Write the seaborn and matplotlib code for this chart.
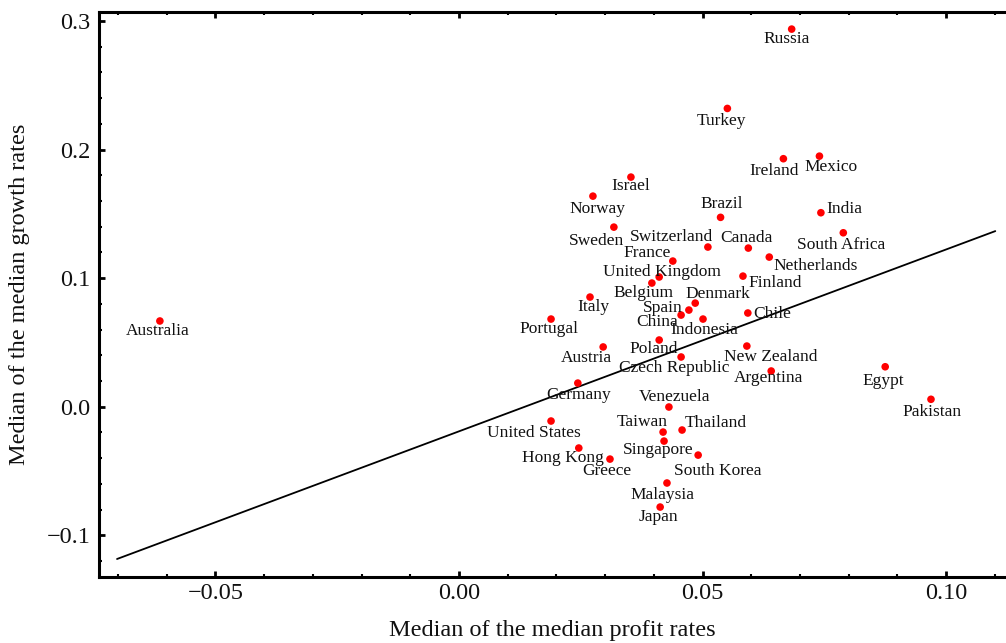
import numpy as np
import pandas as pd
import matplotlib
matplotlib.use("Agg")
import matplotlib.pyplot as plt
import seaborn as sns
from matplotlib.ticker import MultipleLocator, FuncFormatter

countries = ['Russia', 'Turkey', 'Ireland', 'Mexico', 'India', 'South Africa',
             'Brazil', 'Canada', 'Israel', 'Norway', 'Sweden', 'Switzerland',
             'Netherlands', 'France', 'United Kingdom', 'Belgium', 'Finland',
             'Italy', 'Denmark', 'Spain', 'China', 'Indonesia', 'Chile',
             'Portugal', 'Poland', 'Austria', 'Czech Republic', 'New Zealand',
             'Argentina', 'Germany', 'Venezuela', 'United States', 'Taiwan',
             'Thailand', 'Singapore', 'Hong Kong', 'Greece', 'South Korea',
             'Malaysia', 'Japan', 'Australia', 'Egypt', 'Pakistan']

profit = [0.0683, 0.0551, 0.0666, 0.0740, 0.0743, 0.0789,
          0.0537, 0.0594, 0.0353, 0.0275, 0.0318, 0.0511,
          0.0637, 0.0439, 0.0411, 0.0396, 0.0583,
          0.0269, 0.0485, 0.0472, 0.0456, 0.0501, 0.0593,
          0.0189, 0.0411, 0.0296, 0.0456, 0.0591,
          0.0641, 0.0244, 0.0431, 0.0189, 0.0419,
          0.0458, 0.0421, 0.0246, 0.0310, 0.0491,
          0.0427, 0.0413, -0.0614, 0.0875, 0.0969]

growth = [0.2937, 0.2320, 0.1929, 0.1949, 0.1509, 0.1353,
          0.1473, 0.1234, 0.1786, 0.1638, 0.1397, 0.1242,
          0.1164, 0.1133, 0.1009, 0.0962, 0.1016,
          0.0853, 0.0806, 0.0752, 0.0713, 0.0682, 0.0729,
          0.0682, 0.0519, 0.0465, 0.0387, 0.0472,
          0.0278, 0.0184, -0.0002, -0.0111, -0.0197,
          -0.0181, -0.0267, -0.0321, -0.0407, -0.0376,
          -0.0593, -0.0780, 0.0667, 0.0311, 0.0058]

# fitted line end points
fit_x = [-0.0702, 0.1101]
fit_y = [-0.1184, 0.1366]

# label offsets from the dot, in pixels (right, down)
label_off = [(-5, 10), (-6, 13), (-9, 12), (12, 11), (23, -4), (-2, 12),
             (1, -13), (-2, -10), (0, 9), (5, 13), (-17, 14), (-36, -10),
             (46, 9), (-26, -8), (3, -5), (-8, 10), (32, 7),
             (3, 10), (23, -9), (-26, -2), (-24, 7), (1, 11), (24, 1),
             (-2, 10), (-5, 9), (-17, 11), (-7, 11), (24, 11),
             (-3, 7), (1, 12), (6, -10), (-17, 12), (-21, -10),
             (34, -7), (-6, 9), (-16, 10), (-3, 12), (20, 16),
             (-5, 12), (-2, 10), (-2, 10), (-2, 14), (1, 13)]

df = pd.DataFrame({'profit': profit, 'growth': growth, 'country': countries})
fit = pd.DataFrame({'x': fit_x, 'y': fit_y})

sns.set_theme(style="ticks")
plt.rcParams['font.family'] = ['Liberation Serif', 'DejaVu Serif']
plt.rcParams['axes.unicode_minus'] = True

fig = plt.figure(figsize=(10.06, 6.43), dpi=100)
ax = fig.add_axes([99 / 1006, 1 - 577 / 643, 1 - 99 / 1006, (577 - 12) / 643])

sns.lineplot(data=fit, x='x', y='y', color='black', linewidth=1.3, ax=ax)
sns.scatterplot(data=df, x='profit', y='growth', color='#ff0000', s=30,
                edgecolor='none', ax=ax, zorder=3)

for name, px, gy, (dx, dy) in zip(countries, profit, growth, label_off):
    ax.annotate(name, (px, gy), xytext=(dx, -dy), textcoords='offset pixels',
                ha='center', va='center', fontsize=12.5, color='#111111')

ax.set_xlim(-0.0739, 0.1123)
ax.set_ylim(-0.1324, 0.307)

ax.xaxis.set_major_locator(MultipleLocator(0.05))
ax.xaxis.set_minor_locator(MultipleLocator(0.01))
ax.yaxis.set_major_locator(MultipleLocator(0.1))
ax.yaxis.set_minor_locator(MultipleLocator(0.02))
ax.xaxis.set_major_formatter(FuncFormatter(lambda v, p: f"{v:.2f}".replace('-', '\u2212')))
ax.yaxis.set_major_formatter(FuncFormatter(lambda v, p: f"{v:.1f}".replace('-', '\u2212')))

ax.tick_params(which='both', direction='in', top=True, right=False,
               color='black', labelsize=17.5, labelcolor='#111111')
ax.tick_params(which='major', length=4, width=2)
ax.tick_params(which='minor', length=2.5, width=1.5)
ax.tick_params(axis='x', pad=4)
ax.tick_params(axis='y', pad=6)

for side in ['left', 'bottom', 'top']:
    ax.spines[side].set_linewidth(2.2)
    ax.spines[side].set_color('black')
ax.spines['right'].set_visible(False)

ax.set_xlabel('Median of the median profit rates', fontsize=17.5, labelpad=12, color='#111111')
ax.set_ylabel('Median of the median growth rates', fontsize=17.5, labelpad=12, color='#111111')

fig.savefig('out.png', dpi=100)
